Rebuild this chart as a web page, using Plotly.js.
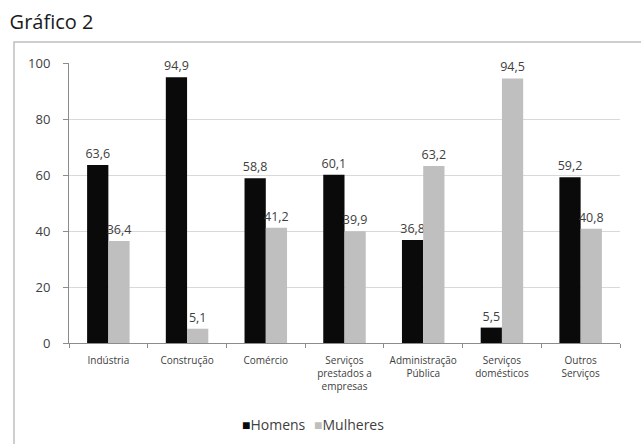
<!DOCTYPE html>
<html><head><meta charset="utf-8">
<script src="https://cdn.plot.ly/plotly-3.0.1.min.js"></script>
<style>body{margin:0;background:#fff}#c{width:641px;height:444px}</style>
</head><body><div id="c"></div>
<script>
const categories = ["Indústria","Construção","Comércio","Serviços<br>prestados a<br>empresas","Administração<br>Pública","Serviços<br>domésticos","Outros<br>Serviços"];
const seriesNames = ["Homens", "Mulheres"];
const homens = [63.6, 94.9, 58.8, 60.1, 36.8, 5.5, 59.2];
const mulheres = [36.4, 5.1, 41.2, 39.9, 63.2, 94.5, 40.8];
const yTicks = [0, 20, 40, 60, 80, 100];
const colors = ['#0a0a0a', '#bfbfbf'];
const fmt = v => v.toFixed(1).replace('.', ',');

const labelFont = {family:'Open Sans, Liberation Sans', size:12.5, color:'#404040'};
const traces = [homens, mulheres].map((vals, i) => ({
  type:'bar', name:seriesNames[i], x:categories, y:vals, marker:{color:colors[i]},
  text:vals.map(fmt), textposition:'outside', constraintext:'none',
  cliponaxis:false, textfont:labelFont
}));

const H = 280;
const legendY = (343-424)/H;
const layout = {
  width:641, height:444,
  margin:{l:69, r:21, t:63, b:101},
  paper_bgcolor:'#fff', plot_bgcolor:'#fff',
  bargap:0.46, bargroupgap:0,
  showlegend:false,
  title:{text:'Gráfico 2', x:0.015, xanchor:'left', y:0.95, yanchor:'middle',
         font:{family:'Open Sans, Liberation Sans', size:20, color:'#1a1a1a'}},
  xaxis:{showline:true, linecolor:'#8c8c8c', ticks:'outside', tickson:'boundaries',
         ticklen:4, tickcolor:'#8c8c8c', showgrid:false, automargin:false,
         ticklabelstandoff:8,
         tickfont:{family:'Open Sans, Liberation Sans', size:10, color:'#404040'}},
  yaxis:{range:[0,100], tickvals:yTicks, showline:true, linecolor:'#8c8c8c',
         ticks:'outside', ticklen:5, tickcolor:'#8c8c8c', ticklabelstandoff:10,
         gridcolor:'#d9d9d9', zeroline:false, automargin:false,
         tickfont:{family:'Open Sans, Liberation Sans', size:13, color:'#404040'}},
  annotations:[
    {xref:'paper', yref:'paper', x:(240-69)/551, y:legendY, xanchor:'left', yanchor:'middle',
     showarrow:false, text:'<span style="color:'+colors[0]+'">■</span>'+seriesNames[0],
     font:{family:'Open Sans, Liberation Sans', size:14, color:'#404040'}},
    {xref:'paper', yref:'paper', x:(312-69)/551, y:legendY, xanchor:'left', yanchor:'middle',
     showarrow:false, text:'<span style="color:'+colors[1]+'">■</span>'+seriesNames[1],
     font:{family:'Open Sans, Liberation Sans', size:14, color:'#404040'}}
  ],
  shapes:[{type:'rect', xref:'paper', yref:'paper',
           x0:-55/551, x1:1.2, y0:-0.6, y1:(343-42)/H,
           line:{color:'#bfbfbf', width:1.5}, fillcolor:'rgba(0,0,0,0)', layer:'below'}]
};
Plotly.newPlot('c', traces, layout, {staticPlot:true});
</script></body></html>
